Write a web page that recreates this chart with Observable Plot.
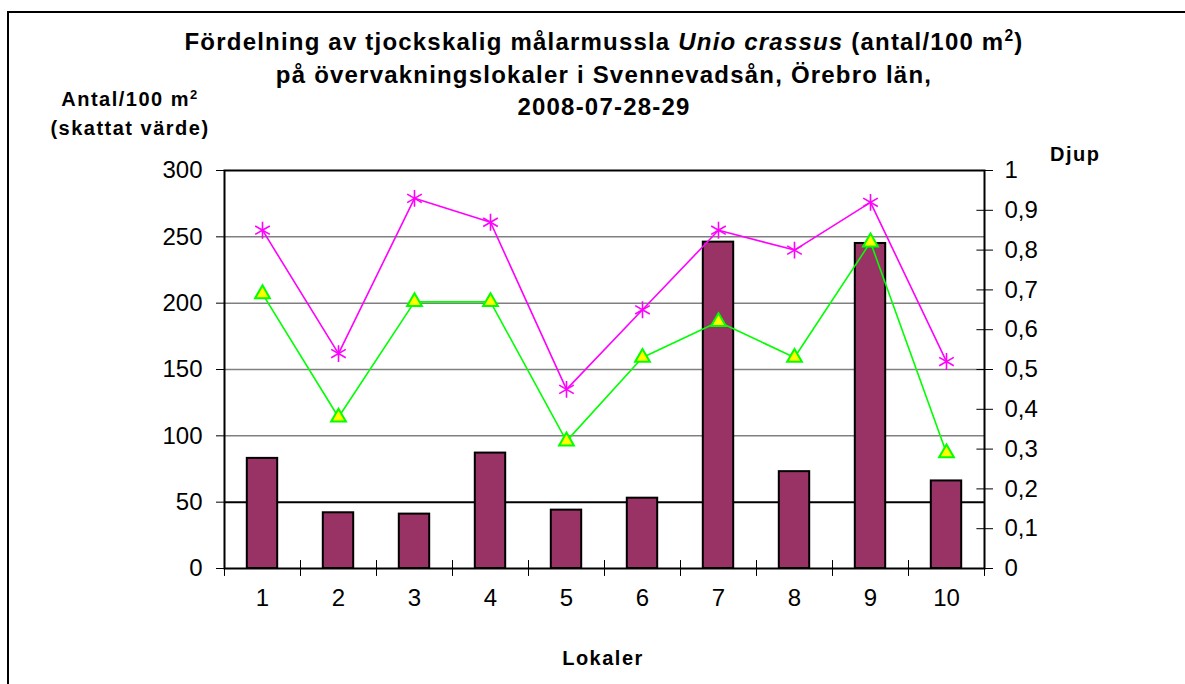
<!DOCTYPE html>
<html><head><meta charset="utf-8">
<script src="https://cdn.jsdelivr.net/npm/d3@7"></script>
<script src="https://cdn.jsdelivr.net/npm/@observablehq/plot@0.6"></script>
<style>
body{margin:0;background:#fff;font-family:"Liberation Sans",Arial,sans-serif;}
#wrap{position:relative;width:1185px;height:684px;overflow:hidden;}
#chart{position:absolute;left:0;top:0;}
#frame{position:absolute;left:7px;top:11px;width:1200px;height:700px;border-left:2px solid #000;border-top:2px solid #000;}
.t{position:absolute;font-weight:bold;white-space:nowrap;color:#000;}
#title{left:604px;top:26px;transform:translateX(-50%);text-align:center;font-size:24px;line-height:32.5px;letter-spacing:1.2px;}
#ylab{left:130px;top:85px;transform:translateX(-50%);text-align:center;font-size:20px;line-height:29px;letter-spacing:1.5px;}
#djup{left:1050px;top:143px;font-size:20px;letter-spacing:1.5px;}
#xlab{left:603px;top:647px;transform:translateX(-50%);font-size:20px;letter-spacing:1.5px;}
sup{font-size:0.65em;line-height:0;vertical-align:0.55em;}
</style></head><body>
<div id="wrap">
<div id="chart"></div>
<div id="frame"></div>
<div class="t" id="title">Fördelning av tjockskalig målarmussla <i>Unio crassus</i> (antal/100 m<sup>2</sup>)<br>på övervakningslokaler i Svennevadsån, Örebro län,<br>2008-07-28-29</div>
<div class="t" id="ylab">Antal/100 m<sup>2</sup><br>(skattat värde)</div>
<div class="t" id="djup">Djup</div>
<div class="t" id="xlab">Lokaler</div>
</div>
<script>
const lokaler = [1, 2, 3, 4, 5, 6, 7, 8, 9, 10];
const antal = [83, 42, 41, 87, 44, 53, 246, 73, 245, 66];
const djupMax = [0.85, 0.54, 0.93, 0.87, 0.45, 0.65, 0.85, 0.80, 0.92, 0.52];
const djupMedel = [0.69, 0.38, 0.67, 0.67, 0.32, 0.53, 0.62, 0.53, 0.82, 0.29];
const antalTicks = [0, 50, 100, 150, 200, 250, 300];
const djupTicks = [0, 0.1, 0.2, 0.3, 0.4, 0.5, 0.6, 0.7, 0.8, 0.9, 1];

const djupTop = 1, antalTop = 300;
const toAntal = d => d / djupTop * antalTop;
const rows = lokaler.map((l, i) => ({lokal: l, antal: antal[i], max: djupMax[i], medel: djupMedel[i]}));
const bounds = [lokaler[0] - 0.5, ...lokaler.map(l => l + 0.5)];
const fmt = v => d3.format(".1~f")(v).replace(".", ",");

const chart = Plot.plot({
  width: 1185, height: 684,
  marginLeft: 224, marginRight: 201, marginTop: 170, marginBottom: 116,
  style: {fontFamily: "'Liberation Sans', Arial, sans-serif", background: "transparent", color: "#000"},
  x: {domain: [0.5, 10.5], axis: null},
  y: {domain: [0, antalTop], axis: null},
  marks: [
    Plot.ruleY(antalTicks.filter(v => v > 0 && v < antalTop && v !== 50), {y: d => d, stroke: "#808080", strokeWidth: 1.5}),
    Plot.ruleY(antalTicks.filter(v => v === 50), {y: d => d, stroke: "#000", strokeWidth: 2}),
    Plot.rectY(rows, {x1: d => d.lokal - 0.2, x2: d => d.lokal + 0.2, y1: 0, y2: "antal", fill: "#993366", stroke: "#000", strokeWidth: 2}),
    Plot.line(rows, {x: "lokal", y: d => toAntal(d.max), stroke: "#ff00ff", strokeWidth: 1.6}),
    Plot.line(rows, {x: "lokal", y: d => toAntal(d.medel), stroke: "#00ff00", strokeWidth: 1.6}),
    Plot.dot(rows, {x: "lokal", y: d => toAntal(d.max), symbol: "asterisk", r: 8, stroke: "#ff00ff", strokeWidth: 1.6}),
    Plot.dot(rows, {x: "lokal", y: d => toAntal(d.medel), symbol: "triangle", r: 5.5, fill: "#ffff00", stroke: "#00ff00", strokeWidth: 2}),
    Plot.frame({stroke: "#000", strokeWidth: 2}),
    Plot.axisY(antalTicks, {anchor: "left", label: null, tickSize: 8, tickPadding: 14, fontSize: 24, tickFormat: d => String(d)}),
    Plot.axisY(djupTicks.map(toAntal), {anchor: "right", label: null, tickSize: 8, tickPadding: 12, fontSize: 24, tickFormat: d => fmt(d / antalTop * djupTop)}),
    Plot.ruleY(djupTicks, {y: toAntal, x1: 10.4, x2: 10.5, stroke: "#000"}),
    Plot.ruleX(bounds, {x: d => d, y1: -6, y2: 6, stroke: "#000"}),
    Plot.text(lokaler, {x: d => d, frameAnchor: "bottom", dy: 37, fontSize: 24, text: d => String(d)})
  ]
});
document.getElementById("chart").appendChild(chart);
</script>
</body></html>
